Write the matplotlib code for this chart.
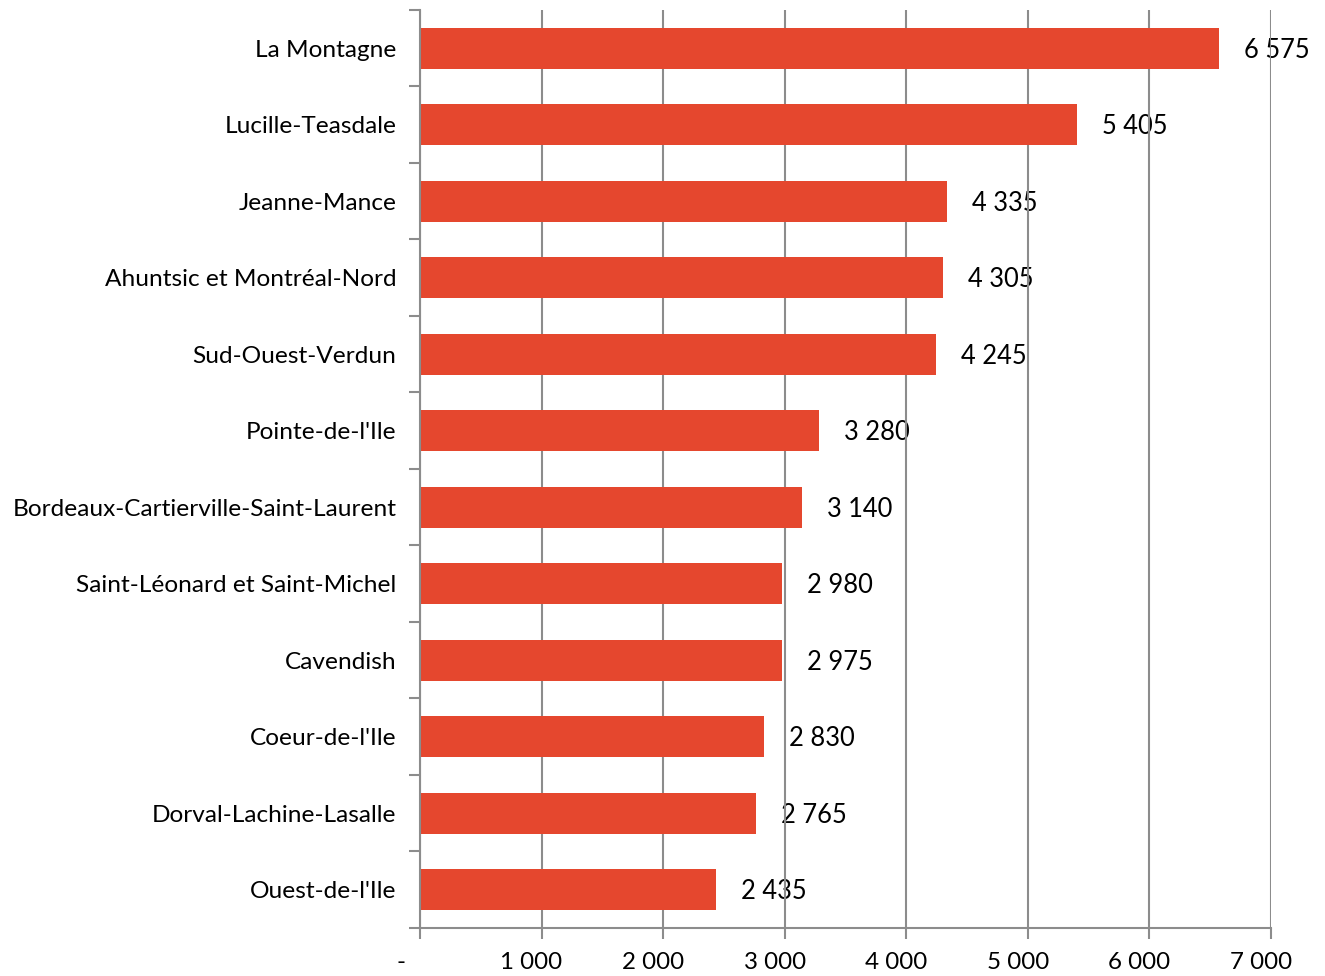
import matplotlib.pyplot as plt
from matplotlib.ticker import FixedLocator, FuncFormatter
from matplotlib.transforms import ScaledTranslation

categories = [
    "La Montagne",
    "Lucille-Teasdale",
    "Jeanne-Mance",
    "Ahuntsic et Montréal-Nord",
    "Sud-Ouest-Verdun",
    "Pointe-de-l'Ile",
    "Bordeaux-Cartierville-Saint-Laurent",
    "Saint-Léonard et Saint-Michel",
    "Cavendish",
    "Coeur-de-l'Ile",
    "Dorval-Lachine-Lasalle",
    "Ouest-de-l'Ile",
]
values = [6575, 5405, 4335, 4305, 4245, 3280, 3140, 2980, 2975, 2830, 2765, 2435]
x_ticks = [0, 1000, 2000, 3000, 4000, 5000, 6000, 7000]

bar_color = '#E5472E'
grid_color = '#8C8C8C'

plt.rcParams['font.family'] = ['Lato', 'DejaVu Sans']

fig = plt.figure(figsize=(13.25, 9.76), dpi=100)
ax = fig.add_axes([0.317, 0.0492, 0.959 - 0.317, 0.9898 - 0.0492])

n = len(categories)
ypos = list(range(n))
ax.barh(ypos, values, height=0.54, color=bar_color, zorder=3)
ax.set_ylim(n - 0.5, -0.5)
ax.set_xlim(0, 7000)

def fmt_thousands(x, pos):
    if x == 0:
        return "-"
    return f"{int(x):,}".replace(",", " ")

ax.xaxis.set_major_locator(FixedLocator(x_ticks))
ax.xaxis.set_major_formatter(FuncFormatter(fmt_thousands))
ax.grid(axis='x', color=grid_color, linewidth=1.5, zorder=2)
ax.set_axisbelow(False)

# category labels centered, tick marks at category boundaries
ax.set_yticks(ypos)
ax.set_yticklabels(categories)
ax.set_yticks([i - 0.5 for i in range(n + 1)], minor=True)
ax.tick_params(axis='y', which='major', length=0, pad=17, labelsize=17.6)
ax.tick_params(axis='y', which='minor', length=8, width=1.5, color=grid_color)
ax.tick_params(axis='x', which='major', length=8, width=1.5, color=grid_color,
               labelsize=17.4, pad=9)

# accounting-style labels sit a little left of their ticks
for i, tick in enumerate(ax.xaxis.get_major_ticks()):
    shift = -0.19 if i == 0 else -0.10
    lbl = tick.label1
    lbl.set_transform(lbl.get_transform()
                      + ScaledTranslation(shift, 0, fig.dpi_scale_trans))

for side in ['top', 'right']:
    ax.spines[side].set_visible(False)
for side in ['left', 'bottom']:
    ax.spines[side].set_color(grid_color)
    ax.spines[side].set_linewidth(1.5)
    ax.spines[side].set_zorder(4)

for y, v in zip(ypos, values):
    ax.annotate(fmt_thousands(v, None), (v, y), xytext=(18, -1.5),
                textcoords='offset points', va='center', ha='left',
                fontsize=18.4, zorder=1, annotation_clip=False)

fig.savefig('out.png', dpi=100)
